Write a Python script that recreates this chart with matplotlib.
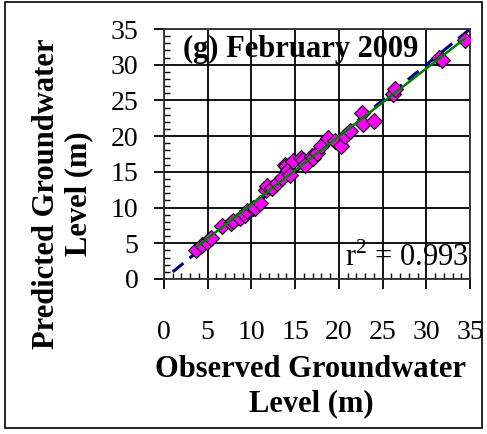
import numpy as np
import matplotlib.pyplot as plt
from matplotlib.patches import Rectangle
from matplotlib.ticker import MultipleLocator

plt.rcParams['font.family'] = 'Liberation Serif'
plt.rcParams['mathtext.fontset'] = 'custom'
plt.rcParams['mathtext.rm'] = 'Liberation Serif'

# observed vs predicted groundwater levels (m), February 2009
obs = [3.7, 4.3, 4.9, 5.4, 6.6, 7.7, 7.9, 8.7, 9.3, 9.5, 10.2, 10.4, 11.0,
       11.7, 11.8, 12.3, 12.9, 13.5, 13.8, 14.0, 14.2, 14.4, 14.8, 15.7,
       15.9, 16.1, 16.9, 17.0, 17.5, 18.0, 18.8, 19.6, 20.3, 20.7, 21.3,
       22.6, 22.8, 24.0, 26.2, 26.4, 31.4, 31.8, 34.4]
pred = [4.1, 4.8, 5.2, 5.7, 7.4, 7.8, 8.1, 8.5, 9.0, 9.5, 9.9, 9.9, 10.6,
        12.5, 13.0, 12.7, 13.5, 14.2, 16.0, 15.8, 15.3, 14.6, 16.5, 17.0,
        16.7, 16.0, 17.2, 17.0, 17.7, 18.6, 19.8, 19.3, 18.6, 20.0, 20.7,
        23.3, 21.7, 22.1, 25.9, 26.6, 31.0, 30.6, 33.4]
one_to_one = [1, 35]
r2_text = 'r$^2$ = 0.993'
title = '(g) February 2009'

obs = np.array(obs)
pred = np.array(pred)

fig = plt.figure(figsize=(4.87, 4.34), dpi=100)
ax = fig.add_axes([164/487, 1 - 279/434, 306/487, 250/434])

# linear trendline through the points
a, b = np.polyfit(obs, pred, 1)
xf = np.array([obs.min(), obs.max()])
ax.plot(one_to_one, one_to_one, color='#000080', lw=2.2, dashes=(4.5, 2.6), zorder=3)
ax.plot(xf, a*xf + b, color='#008000', lw=1.8, zorder=5)
ax.plot(obs, pred, 'D', color='#ff00ff', mec='black', mew=0.8, ms=8.2, zorder=4)

ax.set_xlim(0, 35)
ax.set_ylim(0, 35)
ax.xaxis.set_major_locator(MultipleLocator(5))
ax.yaxis.set_major_locator(MultipleLocator(5))
ax.xaxis.set_minor_locator(MultipleLocator(1))
ax.yaxis.set_minor_locator(MultipleLocator(1))
ax.grid(True, which='major', color='black', lw=1.3)
ax.set_axisbelow(True)
for s in ax.spines.values():
    s.set_color('#333333')
    s.set_linewidth(1.3)
ax.tick_params(which='major', direction='out', length=7.5, width=1.3, labelsize=20)
ax.tick_params(axis='x', which='major', pad=22)
ax.tick_params(axis='y', which='major', pad=11)
ax.tick_params(which='minor', direction='in', length=4.5, width=1.0)

ax.set_xlabel('Observed Groundwater\nLevel (m)', fontsize=22, fontweight='bold',
              linespacing=1.22)
ax.xaxis.set_label_coords(0.48, -0.305)
ax.set_ylabel('Predicted Groundwater\nLevel (m)', fontsize=22, fontweight='bold',
              linespacing=1.15)
ax.yaxis.set_label_coords(-0.232, 0.34)

ax.text(0.062, 0.888, title, transform=ax.transAxes, fontsize=22, fontweight='bold',
        va='baseline', ha='left')
ax.text(0.995, 0.05, r2_text, transform=ax.transAxes, fontsize=22, ha='right', va='baseline')

fig.patches.append(Rectangle((5/487, 6/434), 477/487, 426/434, transform=fig.transFigure,
                             fill=False, edgecolor='black', lw=1.2))

fig.savefig('out.png', dpi=100)
